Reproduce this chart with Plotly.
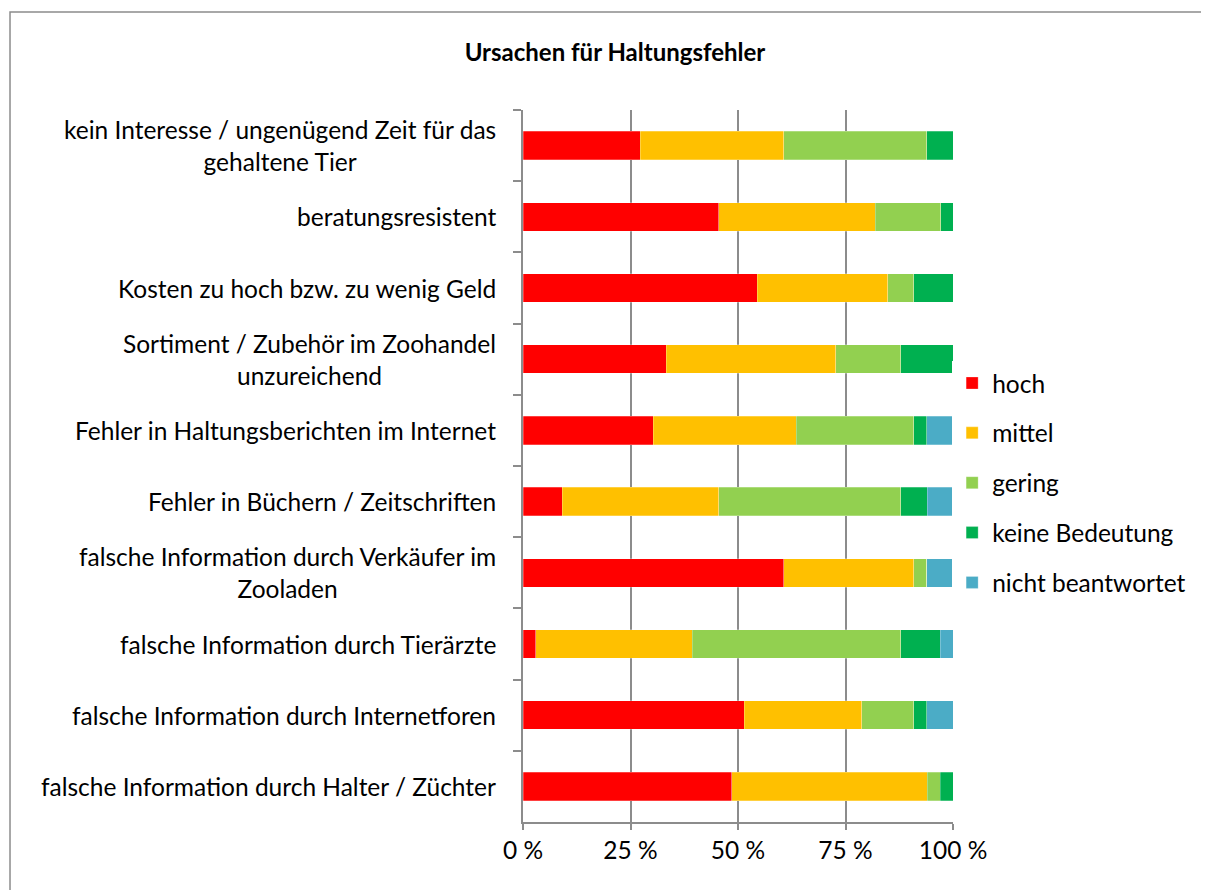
"""Ursachen für Haltungsfehler: 100% stacked horizontal bar chart."""

import plotly.graph_objects as go

# categories, top to bottom
categories = [
    "kein Interesse / ungenügend Zeit für das<br>gehaltene Tier",
    "beratungsresistent",
    "Kosten zu hoch bzw. zu wenig Geld",
    "Sortiment / Zubehör im Zoohandel<br>unzureichend",
    "Fehler in Haltungsberichten im Internet",
    "Fehler in Büchern / Zeitschriften",
    "falsche Information durch Verkäufer im<br>Zooladen",
    "falsche Information durch Tierärzte",
    "falsche Information durch Internetforen",
    "falsche Information durch Halter / Züchter",
]

# shares in percent
hoch = [27.3, 45.5, 54.5, 33.3, 30.3, 9.1, 60.6, 3.0, 51.5, 48.5]
mittel = [33.3, 36.4, 30.3, 39.4, 33.3, 36.4, 30.3, 36.4, 27.3, 45.5]
gering = [33.3, 15.2, 6.1, 15.2, 27.3, 42.4, 3.0, 48.5, 12.1, 3.0]
keine_bedeutung = [6.1, 3.0, 9.1, 12.1, 3.0, 6.1, 0.0, 9.1, 3.0, 3.0]
nicht_beantwortet = [0.0, 0.0, 0.0, 0.0, 6.1, 6.1, 6.1, 3.0, 6.1, 0.0]

x_ticks = [0, 25, 50, 75, 100]
x_tick_labels = ["0 %", "25 %", "50 %", "75 %", "100 %"]

series = [
    ("hoch", hoch, "#FF0000"),
    ("mittel", mittel, "#FFC000"),
    ("gering", gering, "#92D050"),
    ("keine Bedeutung", keine_bedeutung, "#00B050"),
    ("nicht beantwortet", nicht_beantwortet, "#4BACC6"),
]

FONT = "Lato"
SIZE = 24.5
GRID = "#8c8c8c"

fig = go.Figure()
for name, values, color in series:
    fig.add_trace(go.Bar(
        y=categories, x=values,
        orientation="h",
        name=name,
        legendgroup=name,
        marker=dict(color=color, line=dict(color="rgba(255,255,255,0.5)", width=0.5)),
    ))

# category labels as annotations so multi-line labels are centred
for cat in categories:
    fig.add_annotation(
        x=-0.058, xref="paper", y=cat, yref="y",
        text=cat, showarrow=False,
        xanchor="right", yanchor="middle", align="center",
        font=dict(family=FONT, size=SIZE, color="#000000"),
    )

# outer chart frame
fig.add_shape(
    type="rect", xref="paper", yref="paper",
    x0=-1.193, x1=1.609, y0=-0.13, y1=1.1376,
    line=dict(color=GRID, width=1.5),
)

# page body has an 8px margin, so the figure is a bit smaller than the window
fig.update_layout(
    width=1201, height=882,
    barmode="stack",
    bargap=0.6,
    plot_bgcolor="white",
    paper_bgcolor="white",
    margin=dict(l=515, r=256, t=102, b=68),
    font=dict(family=FONT, size=SIZE, color="#000000"),
    title=dict(
        text="<b>Ursachen für Haltungsfehler</b>",
        x=0.5054, xanchor="center", y=0.950, yanchor="middle",
        font=dict(family=FONT, size=24, color="#000000"),
    ),
    legend=dict(
        x=0.998, xanchor="left", y=0.476, yanchor="middle",
        traceorder="grouped", tracegroupgap=15,
        font=dict(family=FONT, size=SIZE),
        itemwidth=30,
    ),
    xaxis=dict(
        range=[0, 100],
        tickvals=x_ticks,
        ticktext=x_tick_labels,
        showgrid=True, gridcolor=GRID, gridwidth=2,
        showline=True, linecolor=GRID, linewidth=2,
        ticks="outside", ticklen=6, tickcolor=GRID, tickwidth=2,
        zeroline=False,
        tickfont=dict(family=FONT, size=SIZE),
    ),
    yaxis=dict(
        autorange="reversed",
        showticklabels=False,
        showline=True, linecolor=GRID, linewidth=2,
        ticks="outside", tickson="boundaries", ticklen=8, tickcolor=GRID, tickwidth=2,
        showgrid=False,
    ),
)

fig.write_html("out.html")
